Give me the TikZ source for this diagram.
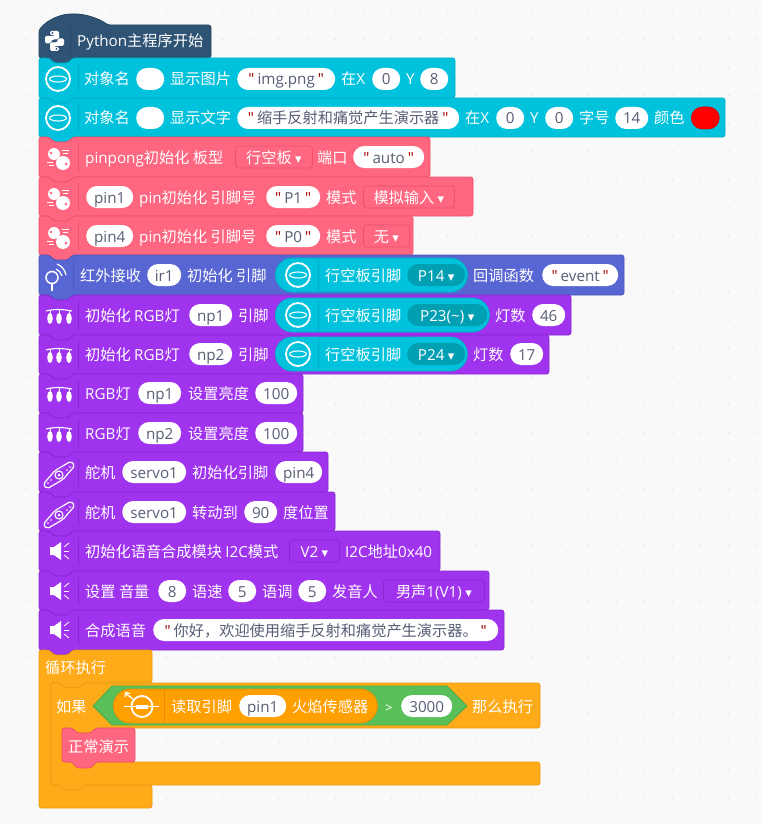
\documentclass[tikz,border=0pt]{standalone}
\usepackage{fontspec}
\setmainfont{Noto Sans CJK SC}
\newfontfamily\latinfont{Open Sans}
\newfontfamily\symfont{DejaVu Sans}
\definecolor{bgpaper}{HTML}{F9F9F9}
\definecolor{griddot}{HTML}{E6E6E6}
\definecolor{hatblue}{HTML}{2F5374}
\definecolor{hatline}{HTML}{27465F}
\definecolor{oledcyan}{HTML}{00C2DC}
\definecolor{oledline}{HTML}{00AEC5}
\definecolor{teal}{HTML}{009FB2}
\definecolor{pingpink}{HTML}{FF6680}
\definecolor{pingline}{HTML}{F0506C}
\definecolor{irblue}{HTML}{5766D3}
\definecolor{irline}{HTML}{4A58BC}
\definecolor{lightpurple}{HTML}{9F33EE}
\definecolor{purpleline}{HTML}{8A28D2}
\definecolor{loopamber}{HTML}{FFAB19}
\definecolor{amberline}{HTML}{E59A12}
\definecolor{sensororange}{HTML}{FF9F00}
\definecolor{sensorline}{HTML}{E58E00}
\definecolor{logicgreen}{HTML}{59C059}
\definecolor{logicline}{HTML}{4AAD4A}
\definecolor{pilltext}{HTML}{575E75}
\definecolor{quotered}{HTML}{A00000}
\tikzset{
  edge/.style = {draw = #1, line width = 0.8},
  lab/.style = {anchor = west, inner sep = 0, text = white, text height = 13pt, text depth = 1pt},
  pill/.style = {anchor = west, inner sep = 0, fill = white, text = pilltext, minimum width = #1pt,
    minimum height = 22pt, rounded corners = 11pt, text height = 13pt, text depth = 1pt},
  drop/.style 2 args = {anchor = west, inner sep = 0, draw = #2, line width = 0.8, text = white, minimum width = #1pt,
    minimum height = 22pt, rounded corners = 3pt, text height = 13pt, text depth = 1pt},
  nest/.style = {anchor = west, inner sep = 0, fill = oledcyan, draw = oledline, line width = 0.8, minimum width = #1pt,
    minimum height = 34pt, rounded corners = 17pt},
  pinpill/.style = {anchor = west, inner sep = 0, fill = teal, text = white, minimum width = #1pt,
    minimum height = 22pt, rounded corners = 11pt, text height = 13pt, text depth = 1pt},
  swatch/.style = {anchor = west, inner sep = 0, fill = red, draw = red!85!black, line width = 0.6, minimum width = 28pt,
    minimum height = 22pt, rounded corners = 11pt}
}
\newcommand{\la}[1]{{\latinfont #1}}
\newcommand{\dn}{{\symfont\fontsize{13}{13}\selectfont ▾}}
\newcommand{\qt}[1]{{\latinfont\color{quotered}"}\hspace{3pt}#1\hspace{3pt}{\latinfont\color{quotered}"}}
\newcommand{\stackblock}[6][78]{
  \draw [edge = #3, fill = #2, rounded corners = 2.5] (39,#4) -- (49,#4) -- (54,#4+5) -- (68,#4+5) -- (73,#4) -- (#6,#4)
    -- (#6,#5) -- (73,#5) -- (68,#5+5) -- (54,#5+5) -- (49,#5) -- (39,#5) -- cycle;
  \draw [edge = #3] (#1,#4+6) -- (#1,#5-5);
}
\newcommand{\oledicon}[2]{
  \draw [white, line width = 1.8] (#1,#2) circle [radius = 12];
  \draw [white, line width = 1.1] (#1,#2) ellipse [x radius = 8.5, y radius = 3];
}
\newcommand{\pingicon}[2]{
  \fill [white] (#1-4,#2-3) circle [radius = 6];
  \fill [white] (#1+5,#2+6) circle [radius = 7];
  \fill [pingpink] (#1-7,#2-4) circle [radius = 1.3];
  \fill [pingpink] (#1+8,#2+7) circle [radius = 1.5];
  \draw [white, line width = 0.6] (#1+4,#2-7) -- (#1+11,#2-7);
  \draw [white, line width = 0.6] (#1+5,#2-4) -- (#1+10,#2-4);
  \draw [white, line width = 0.6] (#1-11,#2+5) -- (#1-5,#2+5);
  \draw [white, line width = 0.6] (#1-9,#2+8) -- (#1-4,#2+8);
}
\newcommand{\lighticon}[2]{
  \draw [white, line width = 1.1] (#1-12,#2-4) .. controls (#1-4,#2-6) and (#1+4,#2-6) .. (#1+14,#2-4);
  \foreach \bx in {-8,1,11} {
    \draw [white, line width = 0.8] (#1+\bx,#2-5) -- (#1+\bx,#2);
    \fill [white] (#1+\bx,#2+3.5) ellipse [x radius = 2.8, y radius = 5.5];
  }
}
\newcommand{\servoicon}[2]{
  \draw [white, line width = 1.2, rounded corners = 2] (#1+15.8,#2-9.2) -- (#1+12,#2-13.8) -- (#1-3.8,#2-4.6)
    -- (#1-15.8,#2+9.2) -- (#1-12,#2+13.8) -- (#1+3.8,#2+4.6) -- cycle;
  \draw [white, line width = 1.1] (#1,#2) circle [radius = 4];
  \fill [white] (#1,#2) circle [radius = 1.5];
  \foreach \sx/\sy in {8/-5,11/-8,-8/5,-11/8} {
    \fill [white] (#1+\sx,#2+\sy) circle [radius = 0.8];
  }
}
\newcommand{\speakericon}[2]{
  \fill [white] (#1-8,#2-4) -- (#1-4,#2-4) -- (#1+3,#2-9) -- (#1+3,#2+9) -- (#1-4,#2+4) -- (#1-8,#2+4) -- cycle;
  \draw [white, line width = 0.8] (#1+6,#2-4) -- (#1+11,#2-8);
  \draw [white, line width = 0.8] (#1+6,#2) -- (#1+11,#2);
  \draw [white, line width = 0.8] (#1+6,#2+4) -- (#1+11,#2+8);
}
\begin{document}
\begin{tikzpicture}[x = 1pt, y = -1pt]
\useasboundingbox (0,0) rectangle (761,824);
\fontsize{15.2}{16}\selectfont
\fill [bgpaper] (0,0) rectangle (761,824);
\foreach \i in {0,...,26} {
  \foreach \j in {0,...,29} {
    \fill [griddot] (26.2+28.1*\i,11.1+28.1*\j) circle [radius = 0.9];
  }
}

\draw [edge = hatline, fill = hatblue, rounded corners = 2.5] (39,30) .. controls (48,19) and (62,14) .. (73,14)
  .. controls (85,14) and (98,18) .. (108,25) -- (211,25) -- (211,58) -- (73,58) -- (68,63) -- (54,63) -- (49,58) -- (39,58) -- cycle;
\draw [edge = hatline] (70,27) -- (70,54);
\fill [white, rounded corners = 1.5] (50,31) -- (59,31) -- (59,39.5) -- (52.5,39.5) -- (51,41) -- (51,43.5) -- (45,43.5)
  -- (45,36) -- (55,36) -- (55,35) -- (50,35) -- cycle;
\fill [white, rounded corners = 1.5] (59,51) -- (50,51) -- (50,42.5) -- (56.5,42.5) -- (58,41) -- (58,38.5) -- (64,38.5)
  -- (64,46) -- (54,46) -- (54,47) -- (59,47) -- cycle;
\fill [hatblue] (52.5,33) circle [radius = 1];
\fill [hatblue] (56.5,49) circle [radius = 1];
\node [lab] (start) at (77,41) {\la{Python}主程序开始};

\stackblock{oledcyan}{oledline}{58}{98}{455}
\oledicon{58}{79}
\node [lab] (objname1) at (84,79) {对象名};
\node [pill = 28] (objpill1) at (136,79) {};
\node [lab] (showimg) at (170,79) {显示图片};
\node [pill = 98] (imgfile) at (237,79) {\qt{\la{img.png}}};
\node [lab] (imgxlab) at (341,79) {在\la{X}};
\node [pill = 28] (imgx) at (372,79) {\la{0}};
\node [lab] (imgylab) at (406,79) {\la{Y}};
\node [pill = 28] (imgy) at (420,79) {\la{8}};

\stackblock{oledcyan}{oledline}{98}{137}{725}
\oledicon{58}{118}
\node [lab] (objname2) at (84,118) {对象名};
\node [pill = 28] (objpill2) at (136,118) {};
\node [lab] (showtext) at (170,118) {显示文字};
\node [pill = 222] (titletext) at (237,118) {\qt{缩手反射和痛觉产生演示器}};
\node [lab] (textxlab) at (465,118) {在\la{X}};
\node [pill = 28] (textx) at (496,118) {\la{0}};
\node [lab] (textylab) at (530,118) {\la{Y}};
\node [pill = 28] (texty) at (545,118) {\la{0}};
\node [lab] (sizelab) at (579,118) {字号};
\node [pill = 33] (textsize) at (615,118) {\la{14}};
\node [lab] (colorlab) at (654,118) {颜色};
\node [swatch] (textcolor) at (691,118) {};

\stackblock{pingpink}{pingline}{137}{177}{430}
\pingicon{58}{157}
\node [lab] (boardinit) at (85,157) {\la{pinpong}初始化 板型};
\node [drop = {77}{pingline}] (boardtype) at (235,157) {行空板 \dn};
\node [lab] (portlab) at (317,157) {端口};
\node [pill = 71] (portname) at (353,157) {\qt{\la{auto}}};

\stackblock{pingpink}{pingline}{177}{216}{473}
\pingicon{58}{197}
\node [pill = 47] (pin1) at (86,197) {\la{pin1}};
\node [lab] (pininit1) at (139,197) {\la{pin}初始化 引脚号};
\node [pill = 54] (pinno1) at (266,197) {\qt{\la{P1}}};
\node [lab] (modelab1) at (326,197) {模式};
\node [drop = {91}{pingline}] (mode1) at (363,197) {模拟输入 \dn};

\stackblock{pingpink}{pingline}{216}{255}{413}
\pingicon{58}{236}
\node [pill = 47] (pin4) at (86,236) {\la{pin4}};
\node [lab] (pininit4) at (139,236) {\la{pin}初始化 引脚号};
\node [pill = 54] (pinno4) at (266,236) {\qt{\la{P0}}};
\node [lab] (modelab4) at (326,236) {模式};
\node [drop = {46}{pingline}] (mode4) at (363,236) {无 \dn};

\stackblock[73]{irblue}{irline}{255}{295}{624}
\draw [white, line width = 1.5] (52,277.5) circle [radius = 6];
\draw [white, line width = 1.8] (52,283.5) -- (52,291);
\draw [white, line width = 1.2] (57,264) .. controls (62,266) and (65,270) .. (66,275);
\draw [white, line width = 1.2] (56,269) .. controls (59,270) and (61,273) .. (62,276);
\node [lab] (irlab) at (80,275) {红外接收};
\node [pill = 34] (ir1) at (147,275) {\la{ir1}};
\node [lab] (irinit) at (187,275) {初始化 引脚};
\node [nest = 192] (irnest) at (275,275) {};
\oledicon{298}{275}
\draw [edge = oledline] (318,259) -- (318,291);
\node [lab] (irboard) at (325,275) {行空板引脚};
\node [pinpill = 58] (irpin) at (407,275) {\la{P14} \dn};
\node [lab] (irback) at (473,275) {回调函数};
\node [pill = 76] (irevent) at (542,275) {\qt{\la{event}}};

\stackblock{lightpurple}{purpleline}{295}{335}{571}
\lighticon{58}{315}
\node [lab] (rgbinit1) at (85,315) {初始化 \la{RGB}灯};
\node [pill = 43] (np1) at (189,315) {\la{np1}};
\node [lab] (rgbpin1) at (238,315) {引脚};
\node [nest = 214] (rgbnest1) at (275,315) {};
\oledicon{298}{315}
\draw [edge = oledline] (318,299) -- (318,331);
\node [lab] (rgbboard1) at (325,315) {行空板引脚};
\node [pinpill = 80] (rgbport1) at (407,315) {\la{P23(\textasciitilde)} \dn};
\node [lab] (rgbnumlab1) at (495,315) {灯数};
\node [pill = 33] (rgbnum1) at (532,315) {\la{46}};

\stackblock{lightpurple}{purpleline}{335}{374}{549}
\lighticon{58}{354}
\node [lab] (rgbinit2) at (85,354) {初始化 \la{RGB}灯};
\node [pill = 43] (np2) at (189,354) {\la{np2}};
\node [lab] (rgbpin2) at (238,354) {引脚};
\node [nest = 192] (rgbnest2) at (275,354) {};
\oledicon{298}{354}
\draw [edge = oledline] (318,338) -- (318,370);
\node [lab] (rgbboard2) at (325,354) {行空板引脚};
\node [pinpill = 58] (rgbport2) at (407,354) {\la{P24} \dn};
\node [lab] (rgbnumlab2) at (473,354) {灯数};
\node [pill = 33] (rgbnum2) at (510,354) {\la{17}};

\stackblock{lightpurple}{purpleline}{374}{413}{303}
\lighticon{58}{393}
\node [lab] (lightlab1) at (85,393) {\la{RGB}灯};
\node [pill = 43] (lightnp1) at (138,393) {\la{np1}};
\node [lab] (brightlab1) at (188,393) {设置亮度};
\node [pill = 42] (bright1) at (255,393) {\la{100}};

\stackblock{lightpurple}{purpleline}{413}{452}{303}
\lighticon{58}{433}
\node [lab] (lightlab2) at (85,433) {\la{RGB}灯};
\node [pill = 43] (lightnp2) at (138,433) {\la{np2}};
\node [lab] (brightlab2) at (188,433) {设置亮度};
\node [pill = 42] (bright2) at (255,433) {\la{100}};

\stackblock{lightpurple}{purpleline}{452}{492}{328}
\servoicon{59}{475}
\node [lab] (servolab1) at (85,472) {舵机};
\node [pill = 64] (servo1) at (122,472) {\la{servo1}};
\node [lab] (servoinit) at (192,472) {初始化引脚};
\node [pill = 47] (servopin) at (275,472) {\la{pin4}};

\stackblock{lightpurple}{purpleline}{492}{531}{335}
\servoicon{59}{515}
\node [lab] (servolab2) at (85,512) {舵机};
\node [pill = 64] (servo2) at (122,512) {\la{servo1}};
\node [lab] (servoturn) at (192,512) {转动到};
\node [pill = 33] (servoangle) at (244,512) {\la{90}};
\node [lab] (servodeg) at (283,512) {度位置};

\stackblock{lightpurple}{purpleline}{531}{571}{440}
\speakericon{58}{551}
\node [lab] (ttsinit) at (85,551) {初始化语音合成模块 \la{I2C}模式};
\node [drop = {50}{purpleline}] (ttsmode) at (289,551) {\la{V2} \dn};
\node [lab] (ttsaddr) at (345,551) {\la{I2C}地址\la{0x40}};

\stackblock{lightpurple}{purpleline}{571}{610}{489}
\speakericon{58}{591}
\node [lab] (ttsvol) at (85,591) {设置 音量};
\node [pill = 28] (ttsvolnum) at (158,591) {\la{8}};
\node [lab] (ttsspeed) at (192,591) {语速};
\node [pill = 28] (ttsspeednum) at (228,591) {\la{5}};
\node [lab] (ttstone) at (262,591) {语调};
\node [pill = 28] (ttstonenum) at (298,591) {\la{5}};
\node [lab] (ttsvoice) at (332,591) {发音人};
\node [drop = {101}{purpleline}] (ttsvoicename) at (383,591) {男声\la{1(V1)} \dn};

\stackblock{lightpurple}{purpleline}{610}{650}{504}
\speakericon{58}{630}
\node [lab] (ttssay) at (85,630) {合成语音};
\node [pill = 345] (ttstext) at (153,630) {\qt{你好，欢迎使用缩手反射和痛觉产生演示器。}};

\draw [edge = amberline, fill = loopamber, rounded corners = 2.5] (39,650) -- (49,650) -- (54,655) -- (68,655) -- (73,650) -- (152,650)
  -- (152,683) -- (84,683) -- (79,688) -- (65,688) -- (60,683) -- (51,683) -- (51,785) -- (152,785) -- (152,808) -- (39,808) -- cycle;
\node [lab] (looplab) at (45,667) {循环执行};
\draw [edge = amberline, fill = loopamber, rounded corners = 2.5] (51,683) -- (60,683) -- (65,688) -- (79,688) -- (84,683) -- (540,683)
  -- (540,728) -- (96,728) -- (91,733) -- (77,733) -- (72,728) -- (62,728) -- (62,762) -- (540,762) -- (540,785)
  -- (84,785) -- (79,790) -- (65,790) -- (60,785) -- (51,785) -- cycle;
\node [lab] (iflab) at (56,706) {如果};
\draw [edge = logicline, fill = logicgreen] (93,706) -- (112,686) -- (447,686) -- (467,706) -- (447,725) -- (112,725) -- cycle;
\node [anchor = west, inner sep = 0, fill = sensororange, draw = sensorline, line width = 0.8, minimum width = 264pt, minimum height = 34pt, rounded corners = 17pt] (flamepill) at (113,706) {};
\draw [white, line width = 1.8] (142,706.5) circle [radius = 10.5];
\draw [white, line width = 1.8] (124,706.5) -- (159,706.5);
\draw [white, line width = 4] (136,706.5) -- (148,706.5);
\draw [white, line width = 1.3] (125,693) -- (133,699);
\draw [white, line width = 1.2] (125,697) -- (126,692.5) -- (130,693.5);
\draw [edge = sensorline] (164,690) -- (164,722);
\node [lab] (flameread) at (171,706) {读取引脚};
\node [pill = 47] (flamepin) at (239,706) {\la{pin1}};
\node [lab] (flamelab) at (292,706) {火焰传感器};
\node [lab, font = \latinfont\fontsize{13}{13}\selectfont] (compare) at (385,706) {>};
\node [pill = 51] (threshold) at (401,706) {\la{3000}};
\node [lab] (thenlab) at (472,706) {那么执行};

\draw [edge = pingline, fill = pingpink, rounded corners = 2.5] (62,728) -- (72,728) -- (77,733) -- (91,733) -- (96,728) -- (135,728)
  -- (135,762) -- (96,762) -- (91,768) -- (77,768) -- (72,762) -- (62,762) -- cycle;
\node [lab] (demolab) at (68,746) {正常演示};
\end{tikzpicture}
\end{document}
